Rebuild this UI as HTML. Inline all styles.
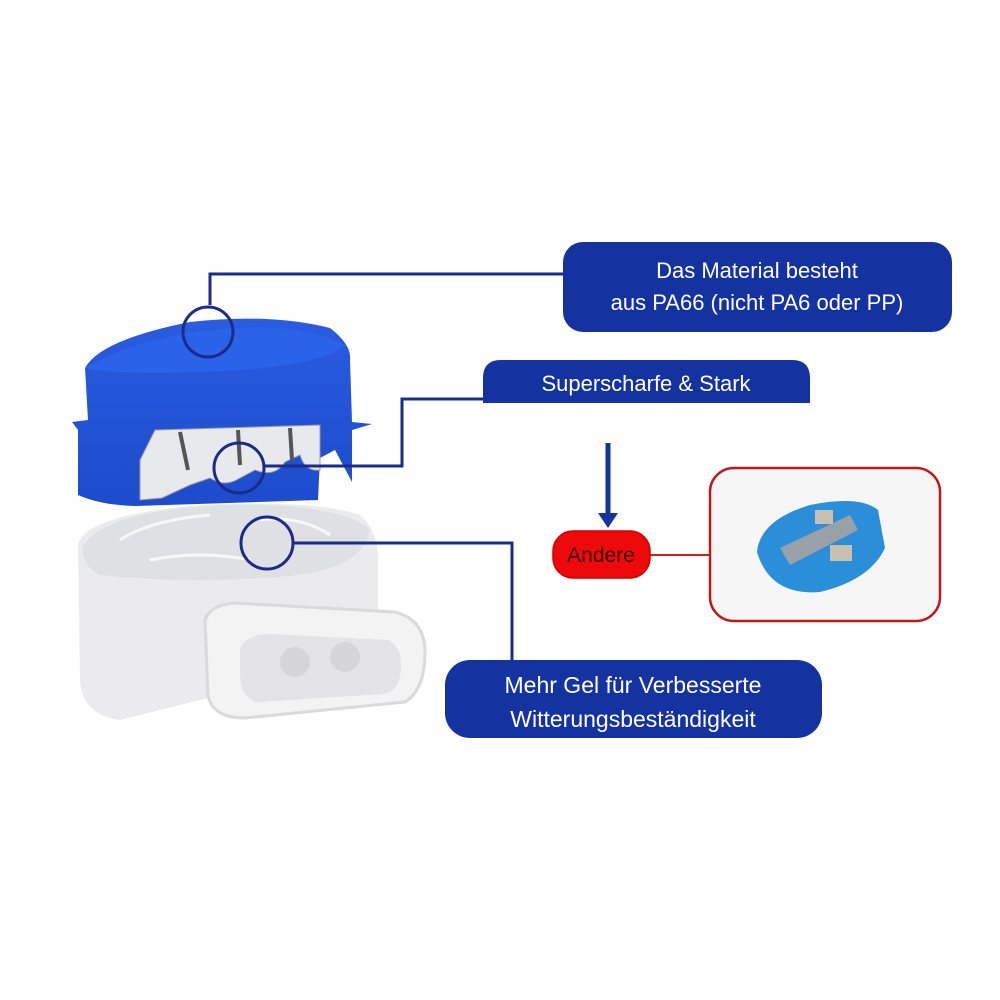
<!DOCTYPE html>
<html><head><meta charset="utf-8"><style>html,body{margin:0;padding:0;background:#fff}svg{display:block}</style></head>
<body>
<svg width="1000" height="1000" viewBox="0 0 1000 1000" xmlns="http://www.w3.org/2000/svg" font-family="Liberation Sans, Arial, sans-serif">
<defs>
<linearGradient id="bl" x1="0" y1="0" x2="0" y2="1"><stop offset="0" stop-color="#2a5ce0"/><stop offset="1" stop-color="#1d4bcc"/></linearGradient>
</defs>
<rect width="1000" height="1000" fill="#fff"/>
<!-- gel base -->
<path d="M78,545 Q85,515 200,505 Q320,500 360,515 Q378,530 378,560 L378,640 L240,690 L120,720 Q82,715 80,680 Z" fill="#ebebed"/>
<path d="M82,548 Q100,512 220,505 Q340,502 370,530 Q365,565 300,575 Q200,585 100,575 Q84,568 82,548 Z" fill="#dfe0e3"/>
<path d="M120,540 Q150,520 210,515 M260,520 Q300,515 330,535 M150,560 Q200,550 250,560" stroke="#f8f8f8" stroke-width="3" fill="none"/>
<path d="M205,620 Q210,605 235,603 L395,612 Q425,620 425,652 Q425,690 405,702 L245,718 Q212,718 208,695 Z" fill="#f3f3f4" stroke="#dadadd" stroke-width="3"/>
<path d="M240,648 Q248,634 270,634 L388,640 Q403,648 401,670 Q399,692 383,694 L258,702 Q240,698 240,672 Z" fill="#e4e4e6"/>
<circle cx="295" cy="662" r="15" fill="#d6d6d9"/><circle cx="345" cy="657" r="15" fill="#d6d6d9"/>
<!-- blue cap -->
<path d="M72,422 L88,420 L85,368 Q100,340 190,322 Q270,313 330,328 Q352,345 350,360 L352,422 L372,424 L352,430 L352,482 L335,450 L320,458 L318,500 L135,506 Q100,505 78,495 L78,430 Z" fill="url(#bl)"/>
<path d="M85,368 Q140,336 220,329 Q300,322 345,345 Q320,368 200,372 Q120,375 85,368 Z" fill="#2b62ea"/>
<path d="M140,460 L155,430 L320,425 L320,470 Q305,472 300,455 L285,462 Q275,478 255,470 L240,478 Q225,488 210,478 L190,485 L162,498 L140,500 Z" fill="#e8e9ec" stroke="#999" stroke-width="1"/>
<path d="M180,432 L188,470 M238,430 L240,465 M290,428 L292,460" stroke="#555" stroke-width="4"/>
<!-- callouts -->
<g fill="none" stroke="#1c2a8a" stroke-width="3">
<polyline points="210,305 210,274 565,274"/>
<circle cx="208" cy="332" r="25"/>
<polyline points="264,466 402,466 402,399 485,399"/>
<circle cx="239" cy="468" r="25"/>
<polyline points="293,543 512,543 512,662"/>
<circle cx="267" cy="543" r="26"/>
</g>
<rect x="563" y="242" width="389" height="90" rx="20" fill="#1533a0"/>
<text x="757" y="278" fill="#fff" font-size="22" text-anchor="middle">Das Material besteht</text>
<text x="757" y="310" fill="#fff" font-size="22" text-anchor="middle">aus PA66 (nicht PA6 oder PP)</text>
<path d="M483,403 L483,378 Q483,360 501,360 L792,360 Q810,360 810,378 L810,403 Z" fill="#1533a0"/>
<text x="646" y="391" fill="#fff" font-size="22" text-anchor="middle">Superscharfe &amp; Stark</text>
<rect x="445" y="660" width="377" height="78" rx="25" fill="#1533a0"/>
<text x="633" y="693" fill="#fff" font-size="23" text-anchor="middle">Mehr Gel für Verbesserte</text>
<text x="633" y="727" fill="#fff" font-size="23" text-anchor="middle">Witterungsbeständigkeit</text>
<!-- arrow -->
<line x1="608" y1="443" x2="608" y2="515" stroke="#1533a0" stroke-width="5"/>
<polygon points="598,513 618,513 608,528" fill="#1533a0"/>
<line x1="648" y1="555" x2="710" y2="555" stroke="#d02020" stroke-width="2"/>
<rect x="553" y="531" width="97" height="47" rx="20" fill="#ee0a0a" stroke="#c00" stroke-width="1.5"/>
<text x="601" y="562" fill="#3a0505" font-size="21" text-anchor="middle">Andere</text>
<rect x="710" y="468" width="230" height="153" rx="24" fill="#f6f6f6" stroke="#c01818" stroke-width="2.5"/>
<path d="M757,552 Q760,520 810,505 Q860,495 878,510 L885,548 Q870,580 820,592 Q770,596 757,552 Z" fill="#2a8fd8"/>
<path d="M780,548 L850,515 L858,530 L790,565 Z" fill="#9aa0a8"/>
<rect x="815" y="510" width="18" height="14" fill="#c8c0b0"/><rect x="830" y="545" width="22" height="16" fill="#c8c0b0"/>
</svg>
</body></html>
